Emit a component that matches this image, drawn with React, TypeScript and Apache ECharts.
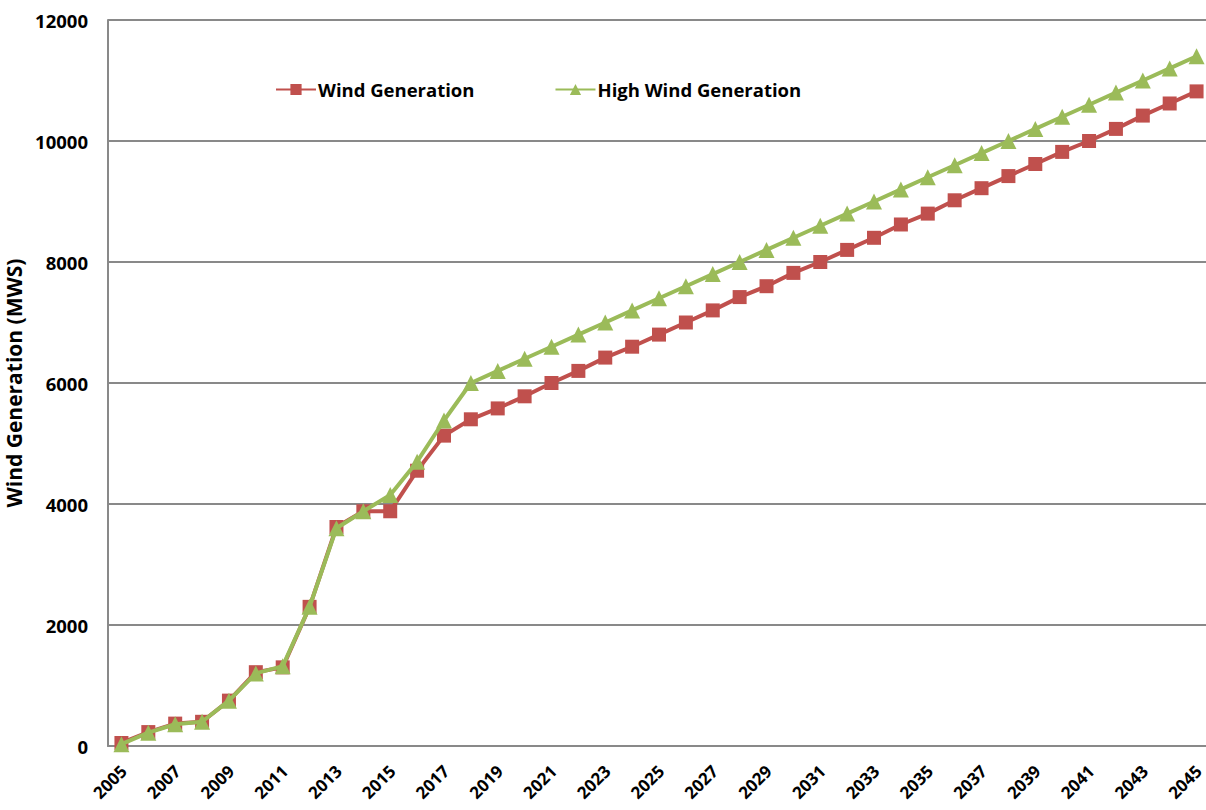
import React, { useEffect, useRef } from "react";
import * as echarts from "echarts";

const years: string[] = [];
for (let y = 2005; y <= 2045; y++) years.push(String(y));

const windGeneration = [
  50, 230, 370, 400, 750, 1220, 1300, 2300, 3620, 3880, 3880, 4550, 5130, 5400,
  5580, 5780, 6000, 6200, 6420, 6600, 6800, 7000, 7200, 7420, 7600, 7820, 8000,
  8200, 8400, 8620, 8800, 9020, 9220, 9420, 9620, 9820, 10000, 10200, 10420,
  10620, 10820,
];

const highWindGeneration = [
  30, 220, 360, 400, 750, 1200, 1320, 2300, 3600, 3880, 4150, 4700, 5380, 6000,
  6200, 6400, 6600, 6800, 7000, 7200, 7400, 7600, 7800, 8000, 8200, 8400, 8600,
  8800, 9000, 9200, 9400, 9600, 9800, 10000, 10200, 10400, 10600, 10800, 11000,
  11200, 11400,
];

const FONT = "'Open Sans', 'DejaVu Sans', sans-serif";

export default function App() {
  const ref = useRef<HTMLDivElement>(null);

  useEffect(() => {
    document.body.style.margin = "0";
    if (!ref.current) return;
    const chart = echarts.init(ref.current, undefined, { renderer: "svg" });
    chart.setOption({
      animation: false,
      backgroundColor: "#ffffff",
      legend: {
        top: 75,
        left: 270,
        padding: [5, 5, 5, 5],
        itemWidth: 40,
        itemHeight: 14,
        itemGap: 80,
        textStyle: {
          fontFamily: FONT,
          fontWeight: "bold",
          fontSize: 18.5,
          color: "#000",
          padding: [0, 0, 0, -3],
        },
        data: ["Wind Generation", "High Wind Generation"],
      },
      grid: {
        left: 108,
        right: -4,
        top: 20,
        bottom: 64,
        containLabel: false,
        outerBoundsMode: "none",
      },
      xAxis: {
        type: "category",
        data: years,
        boundaryGap: true,
        axisLine: { lineStyle: { color: "#898989", width: 2 } },
        axisTick: { show: false },
        axisLabel: { show: false },
      },
      yAxis: {
        type: "value",
        min: 0,
        max: 12000,
        interval: 2000,
        name: "Wind Generation (MWS)",
        nameLocation: "middle",
        nameGap: 80,
        nameTextStyle: { fontFamily: FONT, fontWeight: "bold", fontSize: 21, color: "#000" },
        axisLine: { show: true, lineStyle: { color: "#898989", width: 2 } },
        axisTick: { show: false },
        splitLine: { lineStyle: { color: "#898989", width: 2 } },
        axisLabel: {
          margin: 20,
          formatter: (v: number) => String(v),
          fontFamily: FONT,
          fontWeight: "bold",
          fontSize: 18.5,
          color: "#000",
        },
      },
      series: [
        {
          name: "Wind Generation",
          type: "line",
          data: windGeneration,
          symbol: "rect",
          symbolSize: 14,
          color: "#C0504D",
          lineStyle: { width: 4, color: "#C0504D" },
          itemStyle: { color: "#C0504D" },
          z: 2,
        },
        {
          name: "High Wind Generation",
          type: "line",
          data: highWindGeneration,
          symbol: "triangle",
          symbolSize: 16,
          color: "#9BBB59",
          lineStyle: { width: 4, color: "#9BBB59" },
          itemStyle: { color: "#9BBB59" },
          z: 3,
        },
      ],
    });

    // Rotated category labels (every other year), placed via the axis scale.
    const axisY = chart.convertToPixel({ yAxisIndex: 0 }, 0) as number;
    const labels: any[] = [];
    years.forEach((yr, i) => {
      if (i % 2 !== 0) return;
      const px = chart.convertToPixel({ xAxisIndex: 0 }, yr) as number;
      labels.push({
        type: "group",
        x: px + 2,
        y: axisY + 22,
        rotation: Math.PI / 4,
        silent: true,
        children: [
          {
            type: "text",
            x: 0,
            y: 0,
            style: {
              text: yr,
              align: "right",
              verticalAlign: "middle",
              fontFamily: FONT,
              fontWeight: "bold",
              fontSize: 17,
              fill: "#000",
            },
          },
        ],
      });
    });
    chart.setOption({ graphic: { elements: labels } });

    return () => chart.dispose();
  }, []);

  return <div ref={ref} style={{ width: 1206, height: 810 }} />;
}
